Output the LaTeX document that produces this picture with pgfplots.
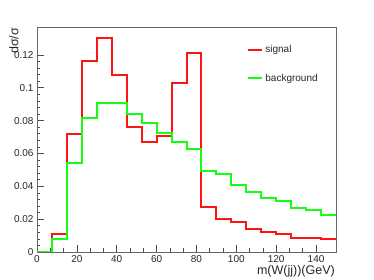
\documentclass[border=0pt]{standalone}
\usepackage{pgfplots}
\pgfplotsset{compat=1.18}
\usepackage{fontspec}
\setmainfont{Liberation Sans}
\begin{document}
\begin{tikzpicture}[font=\fontsize{10}{12}\selectfont]
\path[use as bounding box] (-37pt,-28pt) rectangle (337pt,252pt);
\begin{axis}[
  at={(0pt,0pt)}, anchor=south west,
  scale only axis, width=299pt, height=224.3pt,
  xmin=0, xmax=150, ymin=0, ymax=0.1366,
  xtick={0,20,...,140}, minor x tick num=2,
  ytick={0,0.02,...,0.12}, minor y tick num=4,
  xtick pos=bottom, ytick pos=left, tick align=inside,
  major tick length=7pt, minor tick length=3.5pt,
  axis line style={black!60},
  tick style={black!70, line width=0.6pt},
  scaled y ticks=false,
  /pgf/number format/assume math mode=true,
  yticklabel style={/pgf/number format/fixed, /pgf/number format/precision=2, text=black!85, font=\fontsize{10}{12}\selectfont},
  xticklabel style={text=black!85, font=\fontsize{10}{12}\selectfont},
  xlabel={m(W(jj))(GeV)},
  xlabel style={at={(axis description cs:1,-0.055)}, anchor=north east, inner sep=1pt, text=black!85, font=\fontsize{12.5}{14}\selectfont},
  ylabel={dσ/σ},
  ylabel style={at={(axis description cs:-0.077,1)}, anchor=east, rotate=0, inner sep=0pt, text=black!85, font=\fontsize{12.5}{14}\selectfont},
  legend style={draw=none, fill=none, at={(axis description cs:0.693,0.94)}, anchor=north west,
    row sep=16pt, font=\fontsize{10}{12}\selectfont, text=black!85},
  legend cell align=left,
  legend image code/.code={\draw[#1] (0pt,0pt) -- (14pt,0pt);},
  every axis plot/.append style={line width=2pt, const plot mark left, mark=none},
]
\addplot[color={rgb,255:red,255;green,20;blue,20}] coordinates {
(0,0) (7.5,0.0108) (15,0.0719) (22.5,0.1165) (30,0.1301) (37.5,0.1076)
(45,0.0762) (52.5,0.0672) (60,0.0709) (67.5,0.1027) (75,0.1210)
(82.5,0.0276) (90,0.0203) (97.5,0.0183) (105,0.0138) (112.5,0.0122)
(120,0.0110) (127.5,0.0083) (135,0.0083) (142.5,0.0079) (150,0.0079)};
\addlegendentry{signal}
\addplot[color={rgb,255:red,20;green,255;blue,20}] coordinates {
(0,0) (7.5,0.0081) (15,0.0540) (22.5,0.0816) (30,0.0909) (37.5,0.0909)
(45,0.0840) (52.5,0.0788) (60,0.0723) (67.5,0.0672) (75,0.0627)
(82.5,0.0495) (90,0.0473) (97.5,0.0410) (105,0.0365) (112.5,0.0327)
(120,0.0313) (127.5,0.0270) (135,0.0256) (142.5,0.0224) (150,0.0224)};
\addlegendentry{background}
\end{axis}
\end{tikzpicture}
\end{document}
